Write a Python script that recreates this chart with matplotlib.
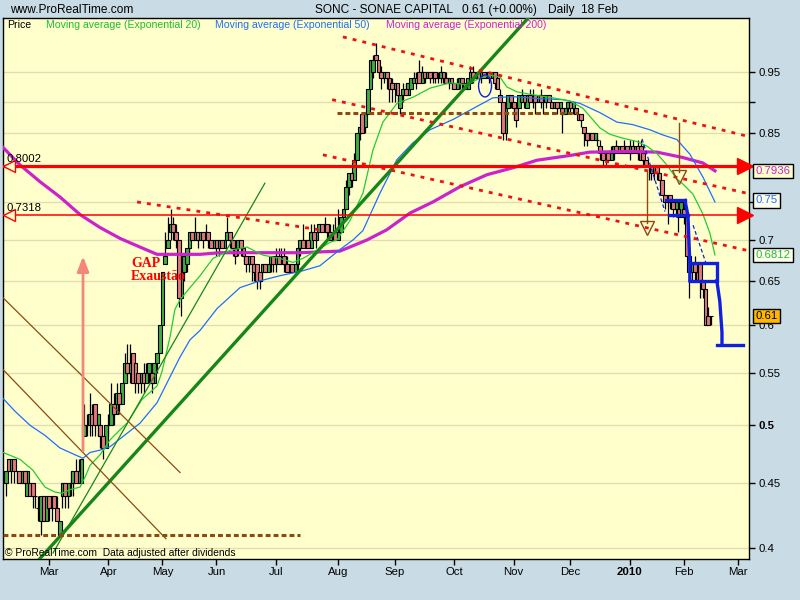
import numpy as np
import matplotlib
matplotlib.use('Agg')
import matplotlib.pyplot as plt
from matplotlib import font_manager
from matplotlib.patches import Ellipse
from matplotlib.ticker import FixedLocator, NullLocator

# ---------------- data (prices in cents, one candle per trading day) ----------------
opens = [45,47,46,47,46,46,45,46,44,45, 45,44,43,42,44,42,44,43,44,43,
         41,44,45,44,45,45,46,45,45,49, 50,50,51,52,50,50,49,48,50,50,
         52,51,53,52,54,56,55,57,56,55, 54,55,54,55,55,54,56,57,60,67,
         69,71,72,71,70,63,66,67,69,71, 70,71,70,71,70,71,70,69,70,69,
         70,69,70,71,70,69,69,70,69,68, 67,68,67,67,66,66,67,66,67,68,
         67,68,67,68,67,66,67,66,67,69, 70,69,70,69,71,70,71,72,71,72,
         71,70,71,70,71,73,74,77,79,78, 81,85,88,86,88,92,95,98,97,95,
         94,95,94,93,92,93,89,91,92,91, 92,93,94,95,93,95,94,95,94,95,
         94,94,95,94,93,94,93,92,93,94, 93,92,93,95,94,95,94,95,94,95,
         94,95,94,91,90,85,89,91,90,89, 89,90,91,89,91,90,91,90,91,90,
         90,91,90,89,90,89,89,88,89,90, 89,89,88,88,86,85,84,85,84,84,
         83,82,81,82,81,82,83,82,83,82, 83,82,83,82,83,83,82,81,80,80,
         79,80,79,78,76,75,76,75,74,74, 73,74,73,68,66,67,66,67,65,64,
         61,61]
highs = [46,47,47,47,46,46,46,46,46,45, 45,44,44,44,44,44,44,44,44,44,
         42,45,45,45,46,46,47,47,47,52, 51,53,52,52,51,50,49,50,51,54,
         53,54,53,54,57,58,58,57,56,55, 55,56,56,56,56,56,57,60,66,71,
         73,74,73,72,70,67,68,69,71,71, 73,71,71,71,72,71,70,70,70,70,
         70,70,73,71,70,69,70,70,69,68, 68,68,67,67,66,67,67,67,68,68,
         69,69,69,69,68,67,67,67,69,70, 72,70,70,72,72,71,72,72,73,72,
         72,72,73,74,73,74,78,79,79,82, 85,86,88,88,92,97,98,100,97,96,
         95,95,94,94,93,93,91,93,93,93, 94,95,95,97,96,95,95,95,95,95,
         95,96,95,95,94,94,93,94,94,94, 93,94,96,96,95,95,95,95,95,95,
         95,95,95,92,90,90,91,91,90,89, 91,92,91,91,92,92,91,91,92,91,
         91,91,90,90,90,90,89,89,90,90, 90,89,88,88,86,85,85,85,85,85,
         84,82,82,82,83,83,84,83,83,84, 83,84,84,83,84,84,82,81,80,80,
         80,80,79,78,76,76,76,75,75,75, 75,75,73,68,67,68,67,67,65,64,
         62,61]
lows = [44,46,45,45,45,45,45,45,44,44, 43,43,42,41,42,42,42,42,43,42,
        41,43,43,43,44,44,45,45,45,49, 49,49,49,49,49,48,47,48,49,50,
        50,51,51,52,54,54,54,54,53,53, 53,53,54,54,53,54,55,57,60,67,
        69,70,70,69,62,61,65,66,68,70, 70,69,70,69,70,69,69,69,68,68,
        69,69,70,69,68,67,68,68,67,66, 66,65,65,64,64,65,66,66,66,66,
        66,67,67,66,66,66,66,66,66,68, 69,69,69,69,70,69,71,71,71,70,
        70,70,70,70,71,72,74,76,77,78, 81,84,85,85,88,92,94,97,94,92,
        93,92,90,90,90,90,88,90,91,91, 92,93,92,93,93,93,94,93,93,93,
        93,93,93,93,92,92,92,92,92,92, 92,92,93,93,94,94,93,94,94,93,
        94,92,92,90,84,84,89,89,87,86, 89,90,89,89,90,89,88,90,89,88,
        89,90,89,89,88,89,85,88,88,88, 88,88,87,86,83,83,84,84,84,83,
        81,80,80,81,81,81,82,82,82,82, 82,81,82,82,81,81,80,80,78,78,
        78,78,77,76,74,72,74,73,73,71, 73,72,68,63,65,65,65,63,63,60,
        60,60]
closes = [46,46,47,46,46,45,46,45,46,44, 44,44,43,44,42,44,43,44,43,42,
          42,45,44,45,45,46,45,46,47,50, 50,51,50,50,51,49,48,50,50,52,
          51,53,52,54,56,55,56,54,54,54, 55,54,55,56,54,56,57,60,66,68,
          70,72,71,70,63,67,68,69,71,70, 71,70,71,70,71,70,69,70,69,70,
          69,70,71,70,69,68,70,69,68,67, 68,67,66,65,65,67,66,67,68,67,
          68,67,68,67,66,67,66,67,69,70, 69,70,69,71,70,71,72,71,72,71,
          70,71,70,71,73,74,77,79,78,81, 85,86,85,88,92,97,97,97,95,94,
          95,94,92,92,93,91,91,92,91,93, 94,94,93,93,95,94,95,94,95,94,
          94,95,94,93,94,93,92,93,94,93, 92,94,95,94,95,94,95,94,95,94,
          95,93,92,90,85,90,91,90,89,87, 91,91,90,91,90,91,90,91,90,90,
          91,90,89,90,89,90,88,89,90,89, 90,88,87,87,85,84,85,84,85,84,
          82,81,82,81,82,83,82,83,82,83, 82,83,82,83,82,81,81,80,80,79,
          80,79,78,76,75,76,75,74,75,73, 75,73,68,66,67,66,65,65,64,60,
          60,61]

month_labels = ['Mar', 'Apr', 'May', 'Jun', 'Jul', 'Aug', 'Sep', 'Oct',
                'Nov', 'Dec', '2010', 'Feb', 'Mar']
month_pos = [16, 38, 58, 78, 100, 123, 144, 166, 188, 209, 231, 251, 271]

# moving averages (bar index, price)
ema20_x = [-1, 5.3, 10, 14.5, 18.2, 20.8, 23.8, 27.5, 29.3, 31.2, 34.9, 38.6, 42.3,
           44.9, 50.4, 56, 57.8, 60.8, 62.6, 64.5, 68.2, 71.9, 76.7, 83, 89.3, 95.2,
           101.5, 106.3, 110, 115.2, 120, 122.6, 127.4, 132.2, 135.9, 139.6, 144.8,
           150.7, 157, 164.4, 170.7, 175.5, 179.2, 182.9, 185.5, 189.2, 195.1, 202.5,
           208.8, 213.6, 219.9, 223.6, 228.4, 233.6, 237.3, 241, 244.7, 248.4, 250.6,
           254.3, 258, 260.6, 262.5]
ema20_y = [0.476, 0.470, 0.461, 0.447, 0.443, 0.442, 0.445, 0.447, 0.455, 0.465, 0.474,
           0.487, 0.496, 0.502, 0.524, 0.537, 0.551, 0.587, 0.617, 0.628, 0.642, 0.656,
           0.677, 0.687, 0.691, 0.681, 0.677, 0.672, 0.677, 0.687, 0.697, 0.700, 0.725,
           0.762, 0.824, 0.867, 0.897, 0.907, 0.922, 0.931, 0.928, 0.939, 0.944, 0.941,
           0.924, 0.916, 0.911, 0.906, 0.901, 0.889, 0.858, 0.848, 0.842, 0.837, 0.830,
           0.819, 0.802, 0.782, 0.775, 0.761, 0.734, 0.709, 0.6812]
ema50_x = [-1, 3.4, 9, 14.5, 20, 25.6, 28.6, 31.2, 34.9, 38.6, 43.4, 49.7, 56, 60.8,
           64.5, 68.2, 71.9, 78.2, 86.7, 94.1, 101.5, 110, 116.3, 123.7, 128.5, 132.2,
           138.5, 144.8, 150.7, 157, 165.5, 174.4, 180.3, 187.7, 196.6, 206.2, 212.5,
           219.9, 226.2, 232.1, 238.4, 243.2, 248.4, 253.2, 258, 262.5]
ema50_y = [0.525, 0.513, 0.500, 0.491, 0.480, 0.474, 0.471, 0.476, 0.478, 0.481, 0.490,
           0.502, 0.521, 0.546, 0.566, 0.584, 0.594, 0.618, 0.642, 0.650, 0.656, 0.662,
           0.668, 0.688, 0.700, 0.712, 0.762, 0.810, 0.835, 0.855, 0.871, 0.892, 0.906,
           0.908, 0.905, 0.903, 0.897, 0.882, 0.867, 0.863, 0.855, 0.847, 0.840, 0.818,
           0.785, 0.75]
ema200_x = [-1, 5.3, 12.7, 20, 27.5, 34.9, 42.3, 49.7, 56, 71.9, 79.3, 108.9, 123.7,
            133.7, 141, 149.6, 158.1, 168.1, 178.1, 187.7, 196.6, 208.8, 216.2, 231,
            241, 250.6, 258, 262.5]
ema200_y = [0.828, 0.802, 0.778, 0.757, 0.733, 0.716, 0.702, 0.691, 0.682, 0.682, 0.684,
            0.684, 0.686, 0.700, 0.713, 0.735, 0.750, 0.771, 0.788, 0.798, 0.809, 0.816,
            0.821, 0.822, 0.821, 0.813, 0.805, 0.7936]

last_values = {'ema200': '0.7936', 'ema50': '0.75', 'ema20': '0.6812', 'close': '0.61'}
level_hi = 0.8002
level_lo = 0.7318

# drawn objects (bar index, price)
green_thick = ([12.5, 194.0], [0.3923, 1.051])
green_thin = ([17.5, 95.9], [0.3966, 0.776])
brown_down1 = ([-0.91, 64.5], [0.630, 0.459])
brown_down2 = ([-0.91, 59.3], [0.553, 0.407])
support_041 = ([-0.91, 108.9], [0.41, 0.41])
resist_088 = ([122.6, 211.8], [0.882, 0.882])
red_chan = [([124.8, 273.6], [1.012, 0.846]),
            ([120.8, 274.3], [0.903, 0.762]),
            ([117.4, 274.3], [0.817, 0.687]),
            ([48.6, 116.3], [0.750, 0.713])]
brown_targets = [(237.3, 0.795, 0.722, 0.716), (249.2, 0.866, 0.792, 0.785)]
blue_pattern = [([244.4, 251.4], [0.752, 0.752]),
                ([245.5, 252.5], [0.732, 0.732]),
                ([251.4, 252.5, 253.2, 253.2], [0.752, 0.732, 0.671, 0.650]),
                ([253.2, 263.2, 263.2, 253.2], [0.671, 0.671, 0.650, 0.650]),
                ([263.2, 264.3, 265.1, 265.1], [0.650, 0.626, 0.592, 0.579]),
                ([263.2, 272.9], [0.579, 0.579])]
blue_dashed = [([235.5, 244.0], [0.841, 0.737]), ([254.4, 259.2], [0.719, 0.671])]
gap_arrow = (28.6, 0.475, 0.683)

# ---------------- figure ----------------
plt.rcParams['font.family'] = ['Liberation Sans', 'DejaVu Sans']
avail = {f.name for f in font_manager.fontManager.ttflist}
narrow = 'Liberation Sans Narrow' in avail
head_family = ['Liberation Sans Narrow', 'Liberation Sans'] if narrow else ['Liberation Sans']
head_size = 10 if narrow else 8.6

BG = '#C9DCE5'
fig = plt.figure(figsize=(8, 6), dpi=100, facecolor=BG)
ax = fig.add_axes([3.3 / 800, 1 - 559 / 600, (749 - 3.3) / 800, (559 - 18) / 600])
ax.set_facecolor('#FFFFCC')
ax.set_yscale('log')
ax.set_ylim(0.3923, 1.0473)
ax.set_xlim(-0.91, 275.1)
for s in ax.spines.values():
    s.set_color('black')
    s.set_linewidth(1)

yt = [0.40, 0.45, 0.50, 0.55, 0.60, 0.65, 0.70, 0.75, 0.80, 0.85, 0.90, 0.95]
ylab = ['0.4', '0.45', '0.5', '0.55', '0.6', '0.65', '0.7', '', '', '0.85', '', '0.95']
ax.yaxis.set_major_locator(FixedLocator(yt))
ax.yaxis.set_minor_locator(NullLocator())
ax.set_yticklabels(ylab)
ax.yaxis.tick_right()
ax.tick_params(axis='y', direction='out', length=4, width=1, pad=3, labelsize=8.2,
               colors='black')
for t in ax.get_yticklabels():
    if t.get_text() == '0.5':
        t.set_fontweight('bold')
for v in yt:
    ax.axhline(v, color='#E2DDB0', lw=1, zorder=0)

ax.set_xticks(month_pos)
ax.set_xticklabels(month_labels)
ax.tick_params(axis='x', direction='out', length=4, width=1, pad=2, labelsize=8.2)
for t in ax.get_xticklabels():
    if t.get_text() == '2010':
        t.set_fontweight('bold')

# candles
idx = np.arange(len(closes))
o = np.array(opens) / 100.0
h = np.array(highs) / 100.0
l = np.array(lows) / 100.0
c = np.array(closes) / 100.0
ax.vlines(idx, l, h, color='black', lw=0.9, zorder=3)
up = c >= o
bot = np.minimum(o, c)
hgt = np.abs(c - o)
ax.bar(idx[up], hgt[up], bottom=bot[up], width=1.4, color='#3FAE3F',
       edgecolor='black', lw=0.8, zorder=4)
ax.bar(idx[~up], hgt[~up], bottom=bot[~up], width=1.4, color='#E07A7A',
       edgecolor='black', lw=0.8, zorder=4)

# moving averages
ax.plot(ema200_x, ema200_y, color='#CC22CC', lw=2.3, zorder=5)
ax.plot(ema50_x, ema50_y, color='#1E6EFF', lw=0.9, zorder=5)
ax.plot(ema20_x, ema20_y, color='#22CC33', lw=0.9, zorder=5)

# trend lines
ax.plot(*green_thick, color='#17861A', lw=2.4, zorder=6)
ax.plot(*green_thin, color='#17861A', lw=0.9, zorder=6)
ax.plot(*brown_down1, color='#8B4A13', lw=0.9, zorder=6)
ax.plot(*brown_down2, color='#8B4A13', lw=0.9, zorder=6)
ax.plot(*support_041, color='#8B4A13', lw=2.2, ls=(0, (1.6, 1.0)), zorder=6)
ax.plot(*resist_088, color='#8B4A13', lw=2.2, ls=(0, (1.6, 1.0)), zorder=6)
for xs, ys in red_chan:
    ax.plot(xs, ys, color='#EE1111', lw=2.0, ls=(0, (1.4, 2.2)), zorder=6)

# horizontal levels
ax.axhline(level_hi, color='#FF0000', lw=2.3, zorder=6)
ax.axhline(level_lo, color='#FF0000', lw=1.1, zorder=6)
yx = ax.get_yaxis_transform()
for lev in (level_hi, level_lo):
    ax.plot([0.008], [lev], transform=yx, marker='<', ms=8, mfc='#FFFFCC',
            mec='#FF0000', mew=1.0, zorder=7, clip_on=False)
    ax.text(0.004, lev * 1.004, '%.4f' % lev, transform=yx, fontsize=8.2,
            ha='left', va='bottom', color='black', zorder=8)
    ax.plot([0.9945], [lev], transform=yx, marker='>', ms=11, color='#FF0000',
            zorder=8, clip_on=False)

# brown target arrows
for xi, ytop, ybot, ytri in brown_targets:
    ax.plot([xi, xi], [ytop, ybot], color='#8B4A13', lw=1.0, zorder=7)
    ax.plot([xi], [ytri], marker='v', ms=10, mfc='none', mec='#8B4A13', mew=1.0,
            zorder=7)

# blue pattern
for xs, ys in blue_pattern:
    ax.plot(xs, ys, color='#1020E0', lw=2.4, zorder=7, solid_joinstyle='miter')
for xs, ys in blue_dashed:
    ax.plot(xs, ys, color='#1020E0', lw=0.9, ls=(0, (3, 2)), zorder=7)
ax.add_patch(Ellipse((177.4, 0.926), 4.8, 0.037, fill=False, ec='#1020E0', lw=1.0,
                     zorder=7))

# gap arrow and text
ax.annotate('', xy=(gap_arrow[0], gap_arrow[2]), xytext=(gap_arrow[0], gap_arrow[1]),
            arrowprops=dict(arrowstyle='-|>,head_width=0.35,head_length=0.9',
                            color='#F4877A', lw=2.0), zorder=6)
ax.text(46.35, 0.679, 'GAP\nExaustão', color='#FF0000', fontsize=10,
        family=['Liberation Serif', 'DejaVu Serif'], fontweight='bold',
        ha='left', va='top', linespacing=1.0, zorder=8)

# right value boxes
boxes = [(0.7936, last_values['ema200'], '#CC22CC', '#FFFFCC'),
         (0.752, last_values['ema50'], '#1E6EFF', '#FFFFEE'),
         (0.6812, last_values['ema20'], '#22BB33', '#FFFFEE'),
         (0.61, last_values['close'], 'black', '#FFB800')]
for yv, txt, col, fc in boxes:
    ax.text(1.009, yv, txt, transform=yx, fontsize=8.2, color=col, ha='left',
            va='center', clip_on=False, zorder=10,
            bbox=dict(boxstyle='square,pad=0.2', fc=fc, ec='black', lw=1.0))

# header and legend texts
hy = 1 - 10 / 600
fig.text(10 / 800, hy, 'www.ProRealTime.com', fontsize=head_size, va='center',
         ha='left', color='black', family=head_family)
fig.text(315 / 800, hy, 'SONC - SONAE CAPITAL', fontsize=head_size, va='center',
         ha='left', color='black', family=head_family)
fig.text(462 / 800, hy, '0.61 (+0.00%)', fontsize=head_size, va='center',
         ha='left', color='black', family=head_family)
fig.text(548 / 800, hy, 'Daily  18 Feb', fontsize=head_size, va='center',
         ha='left', color='black', family=head_family)
leg = [(7, 'Price', 'black'), (46, 'Moving average (Exponential 20)', '#22BB33'),
       (215, 'Moving average (Exponential 50)', '#1E6EFF'),
       (386, 'Moving average (Exponential 200)', '#CC22CC')]
for xp, txt, col in leg:
    fig.text(xp / 800, 1 - 25 / 600, txt, fontsize=7.6, color=col, va='center',
             ha='left')
fig.text(5 / 800, 1 - 553 / 600, '© ProRealTime.com  Data adjusted after dividends',
         fontsize=7.4, va='center', ha='left', color='black')

fig.savefig('out.png', dpi=100, facecolor=BG)
